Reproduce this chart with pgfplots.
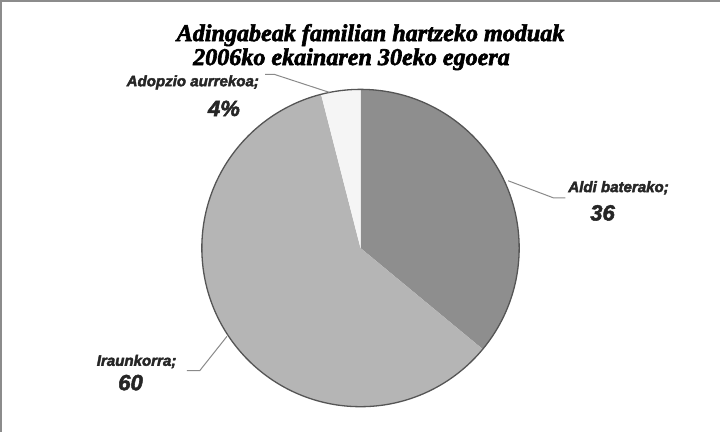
\documentclass[border=0pt]{standalone}
\usepackage{pgfplots}
\pgfplotsset{compat=1.18}
\usepackage{pgfplotstable}
\usepackage{fontspec}
\setmainfont{Liberation Serif}
\newfontfamily\labfont{Liberation Sans}

% stroke the glyph outlines as well to thicken the scanned-looking text
\newcommand\heavy[2][0.5]{\special{pdf:literal direct 2 Tr #1 w}#2\special{pdf:literal direct 0 Tr}}

\definecolor{sliceA}{HTML}{8E8E8E}
\definecolor{sliceB}{HTML}{B5B5B5}
\definecolor{sliceC}{HTML}{F5F5F5}
\definecolor{rim}{HTML}{555555}
\definecolor{leader}{HTML}{8A8A8A}
\definecolor{frame}{HTML}{8C8C8C}

% share of each slice, clockwise from 12 o'clock
\pgfplotstableread{
label      value
Aldi       36
Iraunkorra 60
Adopzio    4
}\piedata

\begin{document}
\begin{tikzpicture}
    \pgfplotstablegetelem{0}{value}\of\piedata \let\va\pgfplotsretval
    \pgfplotstablegetelem{1}{value}\of\piedata \let\vb\pgfplotsretval
    \pgfplotstablegetelem{2}{value}\of\piedata \let\vc\pgfplotsretval
    \pgfmathsetmacro\aA{90}
    \pgfmathsetmacro\aB{\aA-3.6*\va}
    \pgfmathsetmacro\aC{\aB-3.6*\vb}
    \pgfmathsetmacro\aD{\aC-3.6*\vc}
    \def\R{158bp}

    \begin{axis}[
        width            = 721bp,
        height           = 433bp,
        scale only axis,
        xmin = 0, xmax = 721,
        ymin = 0, ymax = 433,
        hide axis,
        clip             = false]

        % frame (only top and left edges are visible in the scan)
        \draw[frame, line width=2bp] (axis cs:5,0) -- (axis cs:5,429) -- (axis cs:721,429);

        % title
        \node[font=\bfseries\itshape\fontsize{24bp}{26bp}\selectfont]
            at (axis cs:373,395) {\heavy[0.6]{Adingabeak familian hartzeko moduak}};
        \node[font=\bfseries\itshape\fontsize{24bp}{26bp}\selectfont]
            at (axis cs:354,371) {\heavy[0.6]{2006ko ekainaren 30eko egoera}};

        % slices
        \fill[sliceA] (axis cs:363,183) -- ++(\aA:\R) arc[start angle=\aA, end angle=\aB, radius=\R] -- cycle;
        \fill[sliceB] (axis cs:363,183) -- ++(\aB:\R) arc[start angle=\aB, end angle=\aC, radius=\R] -- cycle;
        \fill[sliceC] (axis cs:363,183) -- ++(\aC:\R) arc[start angle=\aC, end angle=\aD, radius=\R] -- cycle;
        \draw[rim, line width=1.3bp] (axis cs:363,183) circle[radius=\R];

        % leader lines
        \draw[leader, line width=1bp] (axis cs:268,356) -- (axis cs:277,356) -- (axis cs:332,338);
        \draw[leader, line width=1bp] (axis cs:510,250) -- (axis cs:555,233) -- (axis cs:567,233);
        \draw[leader, line width=1bp] (axis cs:230,95) -- (axis cs:203,61) -- (axis cs:190,61);

        % labels
        \begin{scope}[every node/.style={font=\labfont\bfseries\itshape\fontsize{15bp}{18bp}\selectfont, text=black!85}]
            \node at (axis cs:620,243) {\heavy[0.4]{Aldi baterako;}};
            \node at (axis cs:140,70)  {\heavy[0.4]{Iraunkorra;}};
            \node at (axis cs:196,348) {\heavy[0.4]{Adopzio aurrekoa;}};
        \end{scope}
        \begin{scope}[every node/.style={font=\labfont\bfseries\itshape\fontsize{22bp}{24bp}\selectfont, text=black!85}]
            \node at (axis cs:604,218) {\heavy{\va}};
            \node at (axis cs:134,49)  {\heavy{\vb}};
            \node at (axis cs:227,322) {\heavy{\vc\%}};
        \end{scope}
    \end{axis}
\end{tikzpicture}
\end{document}
